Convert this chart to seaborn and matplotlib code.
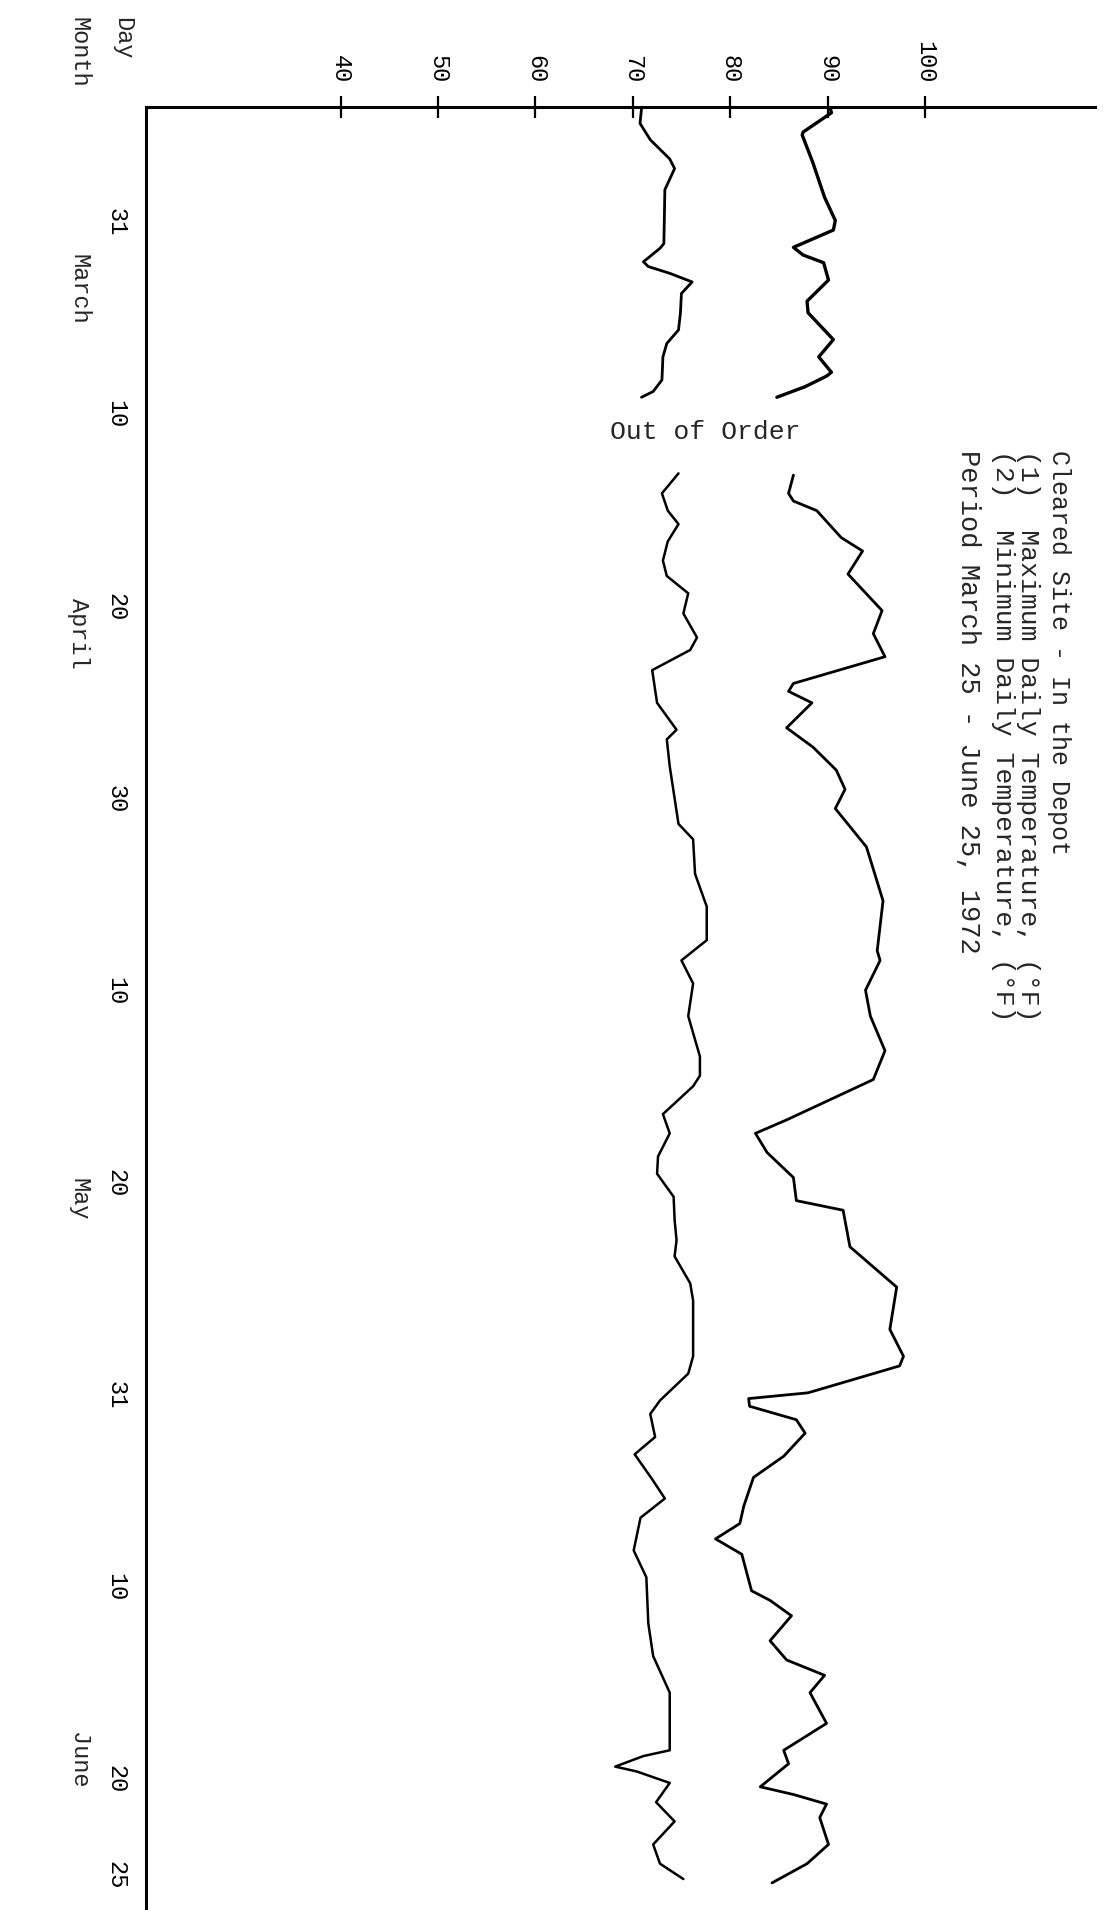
import numpy as np
import pandas as pd
import matplotlib
matplotlib.use("Agg")
import matplotlib.pyplot as plt
import seaborn as sns

# estilo limpo, papel branco
sns.set_style("white")
plt.rcParams['font.family'] = ['Liberation Mono', 'DejaVu Sans Mono']

# ---------------- dados ----------------
# dia 0 = 25 de marco de 1972
max_dias_1 = [0.1, 0.3, 1.3, 1.45, 2.9, 4.7, 5.9, 6.4, 7.3, 7.7, 8.1, 9.0, 10.1, 10.7,
              12.1, 13.0, 13.8, 14.0, 14.55, 15.1]
max_temp_1 = [90.3, 90.4, 87.5, 87.4, 88.5, 89.7, 90.8, 90.6, 86.5, 87.5, 89.6, 90.1, 87.9, 88.0,
              90.6, 89.1, 90.4, 89.9, 87.7, 84.8]

min_dias_1 = [0.1, 0.85, 1.7, 2.7, 3.2, 4.3, 7.1, 7.35, 8.05, 8.3, 8.65, 9.1, 9.7, 10.7,
              11.6, 12.3, 13.0, 14.2, 14.8, 15.1]
min_temp_1 = [70.9, 70.75, 71.8, 73.8, 74.3, 73.3, 73.2, 72.8, 71.1, 71.6, 73.8, 76.1, 75.0, 74.9,
              74.7, 73.5, 73.1, 73.0, 72.1, 70.9]

max_dias_2 = [19.15, 20.1, 20.5, 21.0, 22.4, 23.1, 24.3, 26.2, 27.4, 28.6, 29.99, 30.4, 31.0, 32.3,
              33.3, 34.5, 35.5, 36.5, 38.5, 41.3, 43.9, 44.4, 45.95, 47.3, 49.1, 50.6, 52.7, 53.4,
              54.4, 55.7, 56.9, 57.4, 59.3, 61.4, 63.6, 65.0, 65.5, 66.9, 67.2, 67.6, 68.3, 69.0,
              70.2, 71.3, 72.8, 73.7, 74.5, 75.3, 77.2, 77.7, 78.5, 79.8, 80.8, 81.6, 82.5, 84.1,
              85.5, 86.2, 87.4, 87.8, 88.3, 89.0, 90.4, 91.4, 92.4]
max_temp_2 = [86.5, 86.0, 86.5, 88.9, 91.4, 93.6, 92.1, 95.6, 94.7, 95.9, 86.5, 86.0, 88.4, 85.8,
              88.5, 90.9, 91.8, 90.8, 94.0, 95.7, 95.1, 95.4, 93.9, 94.4, 95.9, 94.7, 85.8, 82.6,
              83.8, 86.5, 86.8, 91.6, 92.3, 97.1, 96.4, 97.8, 97.4, 88.0, 81.9, 82.0, 86.8, 87.7,
              85.5, 82.4, 81.4, 81.0, 78.5, 81.2, 82.2, 84.1, 86.3, 84.1, 85.8, 89.7, 88.2, 89.9,
              85.5, 86.0, 83.1, 86.5, 89.9, 89.2, 90.1, 87.9, 84.3]

min_dias_2 = [19.06, 20.1, 21.0, 21.7, 22.6, 23.6, 24.4, 25.3, 26.35, 27.6, 28.25, 29.3, 31.0,
              32.4, 32.9, 34.3, 37.3, 38.1, 39.9, 41.6, 43.35, 44.4, 45.6, 47.3, 49.4, 50.4, 50.95,
              52.4, 53.4, 54.6, 55.5, 56.7, 57.9, 58.96, 59.8, 61.2, 62.1, 65.0, 65.9, 67.3, 68.0,
              69.2, 70.1, 71.4, 72.4, 73.4, 75.1, 76.5, 78.9, 80.6, 82.5, 85.5, 85.8, 86.35, 86.6,
              87.2, 88.2, 89.2, 90.4, 91.4, 92.2]
min_temp_2 = [74.7, 73.0, 73.6, 74.7, 73.6, 73.1, 73.5, 75.7, 75.2, 76.6, 75.9, 72.0, 72.5,
              74.5, 73.5, 73.8, 74.7, 76.2, 76.4, 77.6, 77.6, 75.0, 76.2, 75.7, 76.9, 76.9, 76.2,
              73.1, 73.8, 72.6, 72.5, 74.2, 74.3, 74.5, 74.3, 75.9, 76.2, 76.2, 75.7, 72.8, 71.8,
              72.3, 70.2, 72.0, 73.3, 70.8, 70.1, 71.4, 71.6, 72.1, 73.8, 73.8, 71.1, 68.2, 70.4,
              73.8, 72.4, 74.3, 72.1, 72.8, 75.2]

# eixos
temp_ticks = [40, 50, 60, 70, 80, 90, 100]
temp_labels = ['40', '50', '60', '70', '80', '90', '100']
dia_ticks = [6, 16, 26, 36, 46, 56, 67, 77, 87, 92]
dia_labels = ['31', '10', '20', '30', '10', '20', '31', '10', '20', '25']
meses = ['March', 'April', 'May', 'June']
meses_pos = [9.5, 27.4, 56.8, 86.0]

titulo = ['Cleared Site - In the Depot',
          '(1)  Maximum Daily Temperature, (\u00b0F)',
          '(2)  Minimum Daily Temperature, (\u00b0F)',
          'Period March 25 - June 25, 1972']

# ---------------- figura ----------------
fig = plt.figure(figsize=(11.13, 19.10), dpi=100)
ax = fig.add_axes([0, 0, 1, 1])
ax.set_xlim(5.04, 119.31)
ax.set_ylim(93.81, -5.57)

segmentos = [
    (max_temp_1, max_dias_1, 2.4),
    (max_temp_2, max_dias_2, 2.0),
    (min_temp_1, min_dias_1, 2.0),
    (min_temp_2, min_dias_2, 1.8),
]
for temps, dias, lw in segmentos:
    seg = pd.DataFrame({'temp': temps, 'dia': dias})
    sns.lineplot(data=seg, x='temp', y='dia', sort=False, estimator=None,
                 color='black', linewidth=lw, ax=ax)

# eixos em cruz (temperatura em cima, dias na esquerda)
for s in ['right', 'bottom']:
    ax.spines[s].set_visible(False)
ax.spines['left'].set_position(('data', 20))
ax.spines['left'].set_bounds(0, 93.81)
ax.spines['top'].set_position(('data', 0))
ax.spines['top'].set_bounds(20, 117.5)
for s in ['left', 'top']:
    ax.spines[s].set_linewidth(2.2)
    ax.spines[s].set_color('black')

ax.xaxis.set_ticks_position('top')
ax.set_xticks(temp_ticks)
ax.set_xticklabels(temp_labels, rotation=270, fontsize=17)
ax.set_yticks(dia_ticks)
ax.set_yticklabels(dia_labels, rotation=270, fontsize=17, va='center')
ax.tick_params(axis='x', direction='inout', length=16, width=1.6, pad=9, colors='black')
ax.tick_params(axis='y', direction='inout', length=18, width=1.6, pad=4, colors='black')
ax.set_xlabel('')
ax.set_ylabel('')

# rotulos dos meses
for nome, pos in zip(meses, meses_pos):
    ax.text(13.15, pos, nome, rotation=270, fontsize=17, ha='center', va='center')
ax.text(17.6, -4.7, 'Day', rotation=270, fontsize=17, ha='center', va='top')
ax.text(13.15, -4.7, 'Month', rotation=270, fontsize=17, ha='center', va='top')

ax.text(77.4, 16.9, 'Out of Order', fontsize=19, ha='center', va='center')

# bloco do titulo
titulo_x = [113.8, 110.6, 108.0, 104.4]
titulo_fs = [18, 19, 19, 19.5]
for txt, xx, fs in zip(titulo, titulo_x, titulo_fs):
    ax.text(xx, 17.85, txt, rotation=270, fontsize=fs, ha='center', va='top')

fig.savefig('out.png', dpi=100)
